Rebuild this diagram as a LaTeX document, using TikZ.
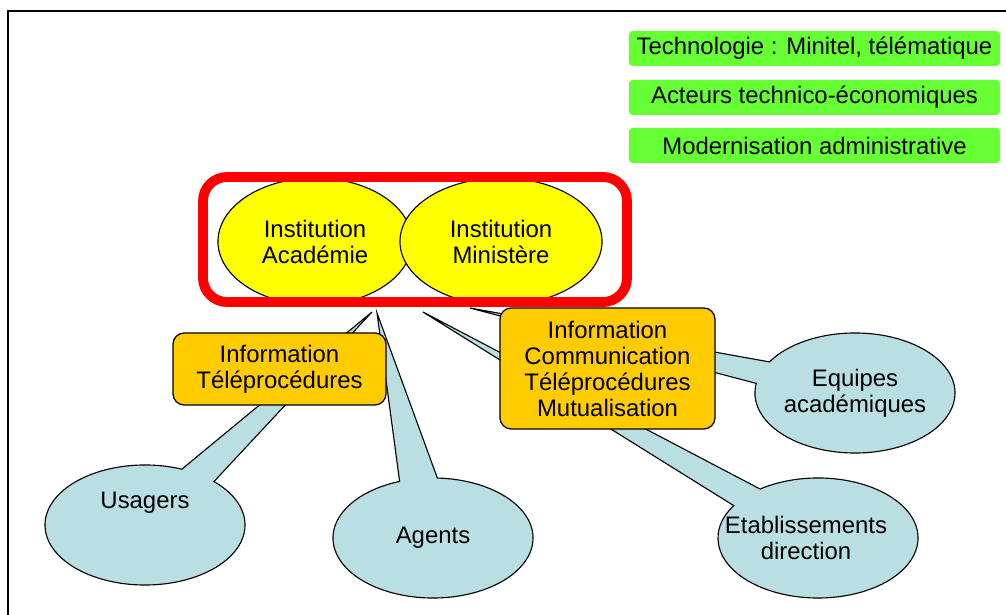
\documentclass[tikz,border=0pt]{standalone}
\usepackage{fontspec}
\setmainfont{Liberation Sans}
\usetikzlibrary{shapes.geometric,shapes.callouts}
\definecolor{vertpale}{RGB}{102,255,51}
\definecolor{jaune}{RGB}{255,255,0}
\definecolor{orangebloc}{RGB}{255,204,0}
\definecolor{bleupale}{RGB}{185,223,227}
\newcommand{\txt}{\fontsize{17}{18.5}\selectfont}

\begin{document}
\begin{tikzpicture}[x=0.025cm, y=-0.025cm,
		every node/.style={font=\txt, align=center, inner sep=0pt},
		theme/.style={fill=vertpale, rounded corners=2.5pt, minimum width=9.275cm, minimum height=0.875cm},
		inst/.style={ellipse, draw, line width=0.8pt, fill=jaune, minimum height=3.175cm},
		bloc/.style={draw, line width=0.9pt, fill=orangebloc, rounded corners=8pt},
		public/.style={ellipse callout, draw, line width=0.8pt, fill=bleupale, minimum width=5cm, minimum height=3cm, callout pointer arc=22}]
			\useasboundingbox (0,0) rectangle (1006,615);
			\draw[line width=1.4pt] (8,615) -- (8,11) -- (1006,11);
			% contexte
			\node[theme] (techno) at (814.5,48.5) {Technologie : Minitel, télématique};
			\node[theme] (acteurs) at (814.5,97.5) {Acteurs technico-économiques};
			\node[theme] (modern) at (814.5,145.5) {Modernisation administrative};
			% pointes des bulles
			\coordinate (pUsagers) at (372,312);
			\coordinate (pAgents) at (377,313);
			\coordinate (pEtab) at (423,312);
			\coordinate (pEquipes) at (470,308);
			\node[public, callout absolute pointer={(pUsagers)}, label={[yshift=0.55cm]center:Usagers}] (usagers) at (145,525) {};
			\node[public, callout absolute pointer={(pAgents)}] (agents) at (433,538) {Agents};
			\node[public, callout absolute pointer={(pEquipes)}, label={[align=center]center:Equipes\\académiques}] (equipes) at (855,393) {};
			\node[public, callout absolute pointer={(pEtab)}, label={[align=center, xshift=-0.3cm]center:Etablissements\\direction}] (etab) at (818,538) {};
			% institutions
			\node[inst, minimum width=4.85cm] (acad) at (315,241.5) {Institution\\Académie};
			\node[inst, minimum width=5.05cm] (minis) at (501,241.5) {Institution\\Ministère};
			\draw[red, line width=7pt, rounded corners=17pt] (203,177) rectangle (627,302);
			\node[bloc, minimum width=5.325cm, minimum height=1.8cm] (info) at (279.5,369) {Information\\Téléprocédures};
			\node[bloc, minimum width=5.375cm, minimum height=3.025cm] (infocom) at (607.5,368.5) {Information\\Communication\\Téléprocédures\\Mutualisation};
		\end{tikzpicture}
\end{document}
